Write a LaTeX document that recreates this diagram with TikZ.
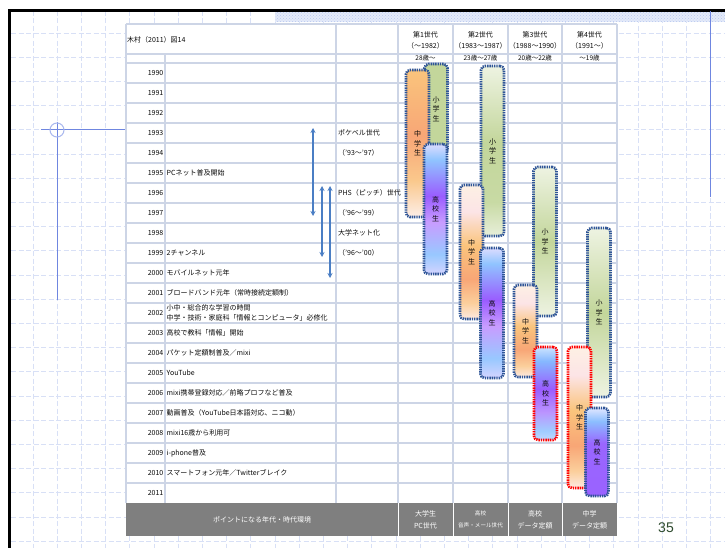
\documentclass[tikz,border=0pt]{standalone}
\usepackage{fontspec}
\setmainfont{Noto Sans CJK JP}
\newfontfamily\numfont{Liberation Sans}
\usetikzlibrary{patterns,arrows.meta}
\definecolor{gridc}{HTML}{CDD5E6}
\definecolor{bgdash}{HTML}{D8E0F6}
\definecolor{bandc}{HTML}{E4EAF9}
\definecolor{bandd}{HTML}{B8C8F0}
\definecolor{barblue}{HTML}{2F5597}
\definecolor{barred}{HTML}{FF0000}
\definecolor{arrowc}{HTML}{4A7EC4}
\definecolor{footg}{HTML}{7F7F7F}
\definecolor{pgnum}{HTML}{2D4A2D}
\definecolor{guideblue}{HTML}{6F86E0}
\definecolor{guidelt}{HTML}{A9B8EE}
\definecolor{txt}{HTML}{0A0A0A}
% orange A (gen1)
\definecolor{oa1}{HTML}{FAC47C}\definecolor{oa2}{HTML}{F8A676}\definecolor{oa3}{HTML}{FAC88C}\definecolor{oa4}{HTML}{FDEEE8}
% orange B
\definecolor{ob0}{HTML}{FDF0E4}\definecolor{ob1}{HTML}{FCE4E6}\definecolor{ob2}{HTML}{FAC47C}\definecolor{ob3}{HTML}{F8A676}\definecolor{ob4}{HTML}{FBCF9C}\definecolor{ob5}{HTML}{FDEAE2}
% purple A
\definecolor{pa0}{HTML}{DCDCFF}\definecolor{pa1}{HTML}{90C4FF}\definecolor{pa2}{HTML}{9A5CFF}\definecolor{pa3}{HTML}{C89CFF}\definecolor{pa4}{HTML}{98C8FF}\definecolor{pa5}{HTML}{D4D4FF}
% purple C (gen3)
\definecolor{pc0}{HTML}{CCE4FF}\definecolor{pc1}{HTML}{86B8FF}\definecolor{pc2}{HTML}{9A5CFF}\definecolor{pc3}{HTML}{BB94FF}\definecolor{pc4}{HTML}{A0CCFF}\definecolor{pc5}{HTML}{C0D8FF}
% purple D (gen4)
\definecolor{pd0}{HTML}{E0E6FF}\definecolor{pd1}{HTML}{8CBEFF}\definecolor{pd2}{HTML}{9966FF}\definecolor{pd3}{HTML}{9A62FF}
% greens
\definecolor{gr0}{HTML}{EEF3E2}\definecolor{gr1}{HTML}{C3D69B}\definecolor{gr2}{HTML}{C8DAA4}\definecolor{gr3}{HTML}{E8EFDA}
\pgfdeclareverticalshading{shOrA}{100bp}{color(0bp)=(oa4); color(25bp)=(oa4); color(37.5bp)=(oa3); color(52.5bp)=(oa2); color(75bp)=(oa1); color(100bp)=(oa1)}
\pgfdeclareverticalshading{shOrB}{100bp}{color(0bp)=(ob5); color(25bp)=(ob5); color(31bp)=(ob4); color(40bp)=(ob3); color(52.5bp)=(ob2); color(65bp)=(ob1); color(75bp)=(ob0); color(100bp)=(ob0)}
\pgfdeclareverticalshading{shPuA}{100bp}{color(0bp)=(pa5); color(25bp)=(pa5); color(32.5bp)=(pa4); color(45bp)=(pa3); color(55bp)=(pa2); color(69bp)=(pa1); color(75bp)=(pa0); color(100bp)=(pa0)}
\pgfdeclareverticalshading{shPuC}{100bp}{color(0bp)=(pc5); color(25bp)=(pc5); color(30bp)=(pc4); color(40bp)=(pc3); color(52.5bp)=(pc2); color(67.5bp)=(pc1); color(75bp)=(pc0); color(100bp)=(pc0)}
\pgfdeclareverticalshading{shPuD}{100bp}{color(0bp)=(pd3); color(25bp)=(pd3); color(55bp)=(pd2); color(67.5bp)=(pd1); color(75bp)=(pd0); color(100bp)=(pd0)}
\pgfdeclareverticalshading{shGrA}{100bp}{color(0bp)=(gr1); color(100bp)=(gr1)}
\pgfdeclareverticalshading{shGrB}{100bp}{color(0bp)=(gr3); color(25bp)=(gr3); color(35bp)=(gr2); color(52.5bp)=(gr1); color(75bp)=(gr0); color(100bp)=(gr0)}
\pgfdeclareverticalshading{shGrC}{100bp}{color(0bp)=(gr0); color(25bp)=(gr0); color(50bp)=(gr1); color(75bp)=(gr0); color(100bp)=(gr0)}
\tikzset{
  bggrid/.style={draw=bgdash, line width=0.8pt, dash pattern=on 5pt off 2.5pt},
  tline/.style={draw=gridc, line width=1.2pt},
  genbar/.style={rounded corners=4pt, line width=2.6pt, dash pattern=on 1.4pt off 0.9pt, draw=barblue, inner sep=0pt, minimum width=23pt, text=txt, align=center, font=\fontsize{7}{9.5}\selectfont},
  redbar/.style={genbar, draw=barred},
  cell/.style={inner sep=0pt, text=txt, font=\fontsize{7}{9}\selectfont},
  yearlbl/.style={cell, anchor=east},
  evt/.style={cell, anchor=west, align=left},
  foot/.style={inner sep=0pt, text=white, align=center, font=\fontsize{7}{12}\selectfont},
  footsm/.style={inner sep=0pt, text=white, align=center, font=\fontsize{5.6}{12}\selectfont},
  dbl/.style={draw=arrowc, line width=1.5pt, {Stealth[length=5pt,width=5pt]}-{Stealth[length=5pt,width=5pt]}},
  guide/.style={draw=guideblue, line width=1pt}
}
\begin{document}
\begin{tikzpicture}[x=1pt,y=-1pt]
\useasboundingbox (0,0) rectangle (725,548);
\fill[white] (0,0) rectangle (725,548);
% background dashed grid
\foreach \k in {0,...,28} \draw[bggrid] ({33+24.2*\k},11) -- ({33+24.2*\k},548);
\foreach \k in {0,...,21} \draw[bggrid] (11,{33+24.2*\k}) -- (725,{33+24.2*\k});
% hatched band
\fill[bandc] (275,12) rectangle (725,22);
\fill[pattern=crosshatch dots, pattern color=bandd] (275,12) rectangle (725,22);
% slide border
\draw[line width=2.5pt, black] (9.7,548) -- (9.7,10.5) -- (725,10.5);
% guides
\draw[guide] (710,11) -- (710,197);
\draw[guide] (57,122) -- (57,300);
\draw[guide] (41,130) -- (126,130);
\draw[draw=guidelt, line width=1pt] (57,130) circle (7);
% table
\fill[white] (126,24) rectangle (617,503);
\foreach \yy in {24,54,63} \draw[tline] (126,\yy) -- (617,\yy);
\foreach \i in {1,...,21} \draw[tline] (126,{63+20*\i}) -- (617,{63+20*\i});
\foreach \xx in {126,336,398,453,508,562,617} \draw[tline] (\xx,24) -- (\xx,503);
\draw[tline] (165,54) -- (165,503);
% footer
\fill[footg] (126,503) rectangle (617,536);
\foreach \xx in {398,453,508,562} \draw[white, line width=1pt] (\xx,503) -- (\xx,536);
% header texts
\node[cell, anchor=west] (title) at (127,40) {木村（2011）図14};
\node[cell, align=center, font=\fontsize{7}{11}\selectfont] (h1) at (425.5,40.5) {第1世代\\（〜1982）};
\node[cell, align=center, font=\fontsize{7}{11}\selectfont] (h2) at (480.5,40.5) {第2世代\\（1983〜1987）};
\node[cell, align=center, font=\fontsize{7}{11}\selectfont] (h3) at (535,40.5) {第3世代\\（1988〜1990）};
\node[cell, align=center, font=\fontsize{7}{11}\selectfont] (h4) at (589.5,40.5) {第4世代\\（1991〜）};
\node[cell, font=\fontsize{6.5}{7}\selectfont] (a1) at (425.5,58.5) {28歳〜};
\node[cell, font=\fontsize{6.5}{7}\selectfont] (a2) at (480.5,58.5) {23歳〜27歳};
\node[cell, font=\fontsize{6.5}{7}\selectfont] (a3) at (535,58.5) {20歳〜22歳};
\node[cell, font=\fontsize{6.5}{7}\selectfont] (a4) at (589.5,58.5) {〜19歳};
% years
\foreach \i in {0,...,21} {
  \pgfmathtruncatemacro\yr{1990+\i}
  \node[yearlbl] (yr\yr) at (163.5,{73+20*\i}) {\yr};
}
% events
\node[evt] (e1995) at (166.5,173) {PCネット普及開始};
\node[evt] (e1999) at (166.5,253) {2チャンネル};
\node[evt] (e2000) at (166.5,273) {モバイルネット元年};
\node[evt] (e2001) at (166.5,293) {ブロードバンド元年（常時接続定額制）};
\node[evt, font=\fontsize{7}{10.5}\selectfont] (e2002) at (166.5,313) {小中・総合的な学習の時間\\中学・技術・家庭科「情報とコンピュータ」必修化};
\node[evt] (e2003) at (166.5,333) {高校で教科「情報」開始};
\node[evt] (e2004) at (166.5,353) {パケット定額制普及／mixi};
\node[evt] (e2005) at (166.5,373) {YouTube};
\node[evt] (e2006) at (166.5,393) {mixi携帯登録対応／前略プロフなど普及};
\node[evt] (e2007) at (166.5,413) {動画普及（YouTube日本語対応、ニコ動）};
\node[evt] (e2008) at (166.5,433) {mixi16歳から利用可};
\node[evt] (e2009) at (166.5,453) {i-phone普及};
\node[evt] (e2010) at (166.5,473) {スマートフォン元年／Twitterブレイク};
% generation labels
\node[evt] (gpk) at (338,133) {ポケベル世代};
\node[evt] (gpk2) at (338,153) {（'93〜'97）};
\node[evt] (gph) at (338,193) {PHS（ピッチ）世代};
\node[evt] (gph2) at (338,213) {（'96〜'99）};
\node[evt] (gun) at (338,233) {大学ネット化};
\node[evt] (gun2) at (338,253) {（'96〜'00）};
% arrows
\coordinate (ar1t) at (313,128); \coordinate (ar1b) at (313,216);
\coordinate (ar2t) at (322,186); \coordinate (ar2b) at (322,257);
\coordinate (ar3t) at (330,186); \coordinate (ar3b) at (330,278);
\draw[dbl] (ar1t) -- (ar1b);
\draw[dbl] (ar2t) -- (ar2b);
\draw[dbl] (ar3t) -- (ar3b);
% bars gen1
\node[genbar, shading=shGrA, minimum height=90pt] (g1e) at (436,109) {小\\学\\生};
\node[genbar, shading=shOrA, minimum height=147pt] (g1j) at (417.5,143.5) {中\\学\\生};
\node[genbar, shading=shPuA, minimum height=130pt] (g1h) at (435.5,209) {高\\校\\生};
% gen2
\node[genbar, shading=shGrB, minimum height=170pt] (g2e) at (492.5,151) {小\\学\\生};
\node[genbar, shading=shOrB, minimum height=134pt] (g2j) at (471.5,252) {中\\学\\生};
\node[genbar, shading=shPuA, minimum height=130pt] (g2h) at (492,313) {高\\校\\生};
% gen3
\node[genbar, shading=shGrC, minimum height=149pt] (g3e) at (545,241.5) {小\\学\\生};
\node[genbar, shading=shOrB, minimum height=92pt] (g3j) at (525.5,331) {中\\学\\生};
\node[redbar, shading=shPuC, minimum height=93pt] (g3h) at (545.5,393.5) {高\\校\\生};
% gen4
\node[genbar, shading=shGrC, minimum height=169pt] (g4e) at (599,312.5) {小\\学\\生};
\node[redbar, shading=shOrB, minimum height=141pt] (g4j) at (579.5,417.5) {中\\学\\生};
\node[genbar, shading=shPuD, minimum height=88pt] (g4h) at (597,452) {高\\校\\生};
% footer texts
\node[foot] (f0) at (262,519.5) {ポイントになる年代・時代環境};
\node[foot] (f1) at (425.5,519.5) {大学生\\PC世代};
\node[footsm] (f2) at (480.5,519.5) {高校\\音声・メール世代};
\node[foot] (f3) at (535,519.5) {高校\\データ定額};
\node[foot] (f4) at (589.5,519.5) {中学\\データ定額};
% page number
\node[inner sep=0pt, text=pgnum, font=\numfont\fontsize{14}{14}\selectfont] (pg) at (666,528) {35};
\end{tikzpicture}
\end{document}
